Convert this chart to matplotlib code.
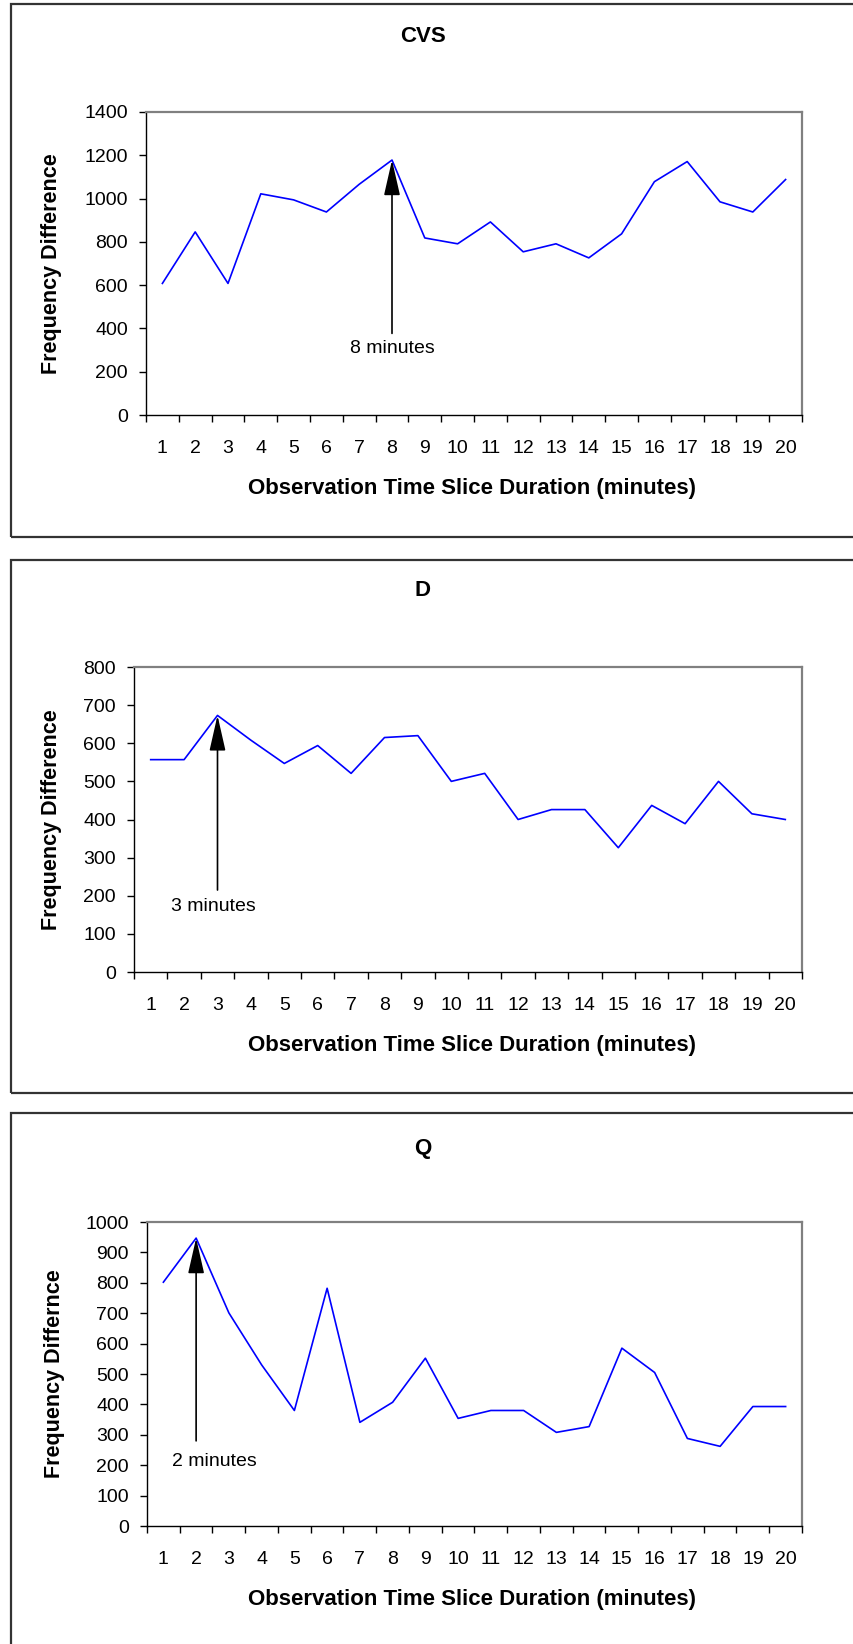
import matplotlib
matplotlib.use("Agg")
import matplotlib.pyplot as plt
from matplotlib.patches import Rectangle

plt.rcParams['font.family'] = ['Liberation Sans', 'DejaVu Sans']

minutes = list(range(1, 21))

cvs_values = [608, 846, 608, 1022, 994, 938, 1066, 1178, 818, 791,
              892, 754, 791, 726, 837, 1078, 1171, 985, 938, 1088]
d_values = [557, 557, 673, 608, 547, 594, 521, 615, 620, 500,
            521, 400, 426, 426, 326, 437, 389, 500, 415, 400]
q_values = [802, 947, 701, 530, 380, 782, 341, 407, 552, 354,
            380, 380, 308, 327, 585, 505, 288, 262, 393, 393]

titles = ["CVS", "D", "Q"]
ylabels = ["Frequency Difference", "Frequency Difference", "Frequency Differnce"]
xlabel = "Observation Time Slice Duration (minutes)"
ymax = [1400, 800, 1000]
ystep = [200, 100, 100]
# (minute, tip value, tail value, text x, text y, text alignment, text)
notes = [(8, 1178, 377, 8, 308, 'center', "8 minutes"),
         (3, 673, 215, 1.6, 171, 'left', "3 minutes"),
         (2, 947, 280, 1.25, 211, 'left', "2 minutes")]

W, H = 854, 1644
fig = plt.figure(figsize=(W / 100, H / 100), dpi=100)


def fx(px):
    return px / W


def fy(py):
    return 1 - py / H


# panel layouts in pixels: axes box, frame top/bottom, title y, xlabel y, ylabel x
panels = [
    dict(ax=(146, 802, 112, 415), frame=(4, 537), title=36, xl=488, yl=52),
    dict(ax=(134, 802, 667, 972), frame=(560, 1093), title=591, xl=1045, yl=52),
    dict(ax=(147, 802, 1222, 1526), frame=(1113, 1700), title=1148, xl=1599, yl=55),
]
series = [cvs_values, d_values, q_values]

for i, p in enumerate(panels):
    # outer chart frame
    ft, fb = p['frame']
    fig.patches.append(Rectangle((fx(11), fy(fb)), fx(900), (fb - ft) / H,
                                 transform=fig.transFigure, fill=False,
                                 edgecolor='#333333', linewidth=1.6))

    l, r, t, b = p['ax']
    ax = fig.add_axes([fx(l), fy(b), (r - l) / W, (b - t) / H])
    ax.plot(minutes, series[i], color='#0000ff', linewidth=1.2)

    ax.set_xlim(0.5, 20.5)
    ax.set_ylim(0, ymax[i])
    ax.set_yticks(range(0, ymax[i] + 1, ystep[i]))
    ax.set_xticks(minutes)
    ax.set_xticks([m + 0.5 for m in range(0, 21)], minor=True)
    ax.tick_params(axis='x', which='major', length=0, pad=18, labelsize=14)
    ax.tick_params(axis='x', which='minor', length=5, width=1, direction='out')
    ax.tick_params(axis='y', length=5, width=1, direction='out', pad=8, labelsize=14)

    for s in ['top', 'right']:
        ax.spines[s].set_color('#808080')
        ax.spines[s].set_linewidth(1.6)
    for s in ['left', 'bottom']:
        ax.spines[s].set_color('black')
        ax.spines[s].set_linewidth(1.0)

    m, tip, tail, tx, ty, ha, txt = notes[i]
    ax.annotate("", xy=(m, tip), xytext=(m, tail),
                arrowprops=dict(arrowstyle='-|>,head_length=2.2,head_width=0.5',
                                mutation_scale=10, color='black', linewidth=1.2,
                                shrinkA=0, shrinkB=0))
    ax.text(tx, ty, txt, ha=ha, va='center', fontsize=14)

    fig.text(fx(423), fy(p['title']), titles[i], ha='center', va='center',
             fontsize=16, fontweight='bold')
    fig.text(fx(472), fy(p['xl']), xlabel, ha='center', va='center',
             fontsize=16, fontweight='bold')
    fig.text(fx(p['yl']), fy((t + b) / 2), ylabels[i], ha='center', va='center',
             rotation=90, fontsize=15.5, fontweight='bold')

fig.savefig("out.png", dpi=100)
